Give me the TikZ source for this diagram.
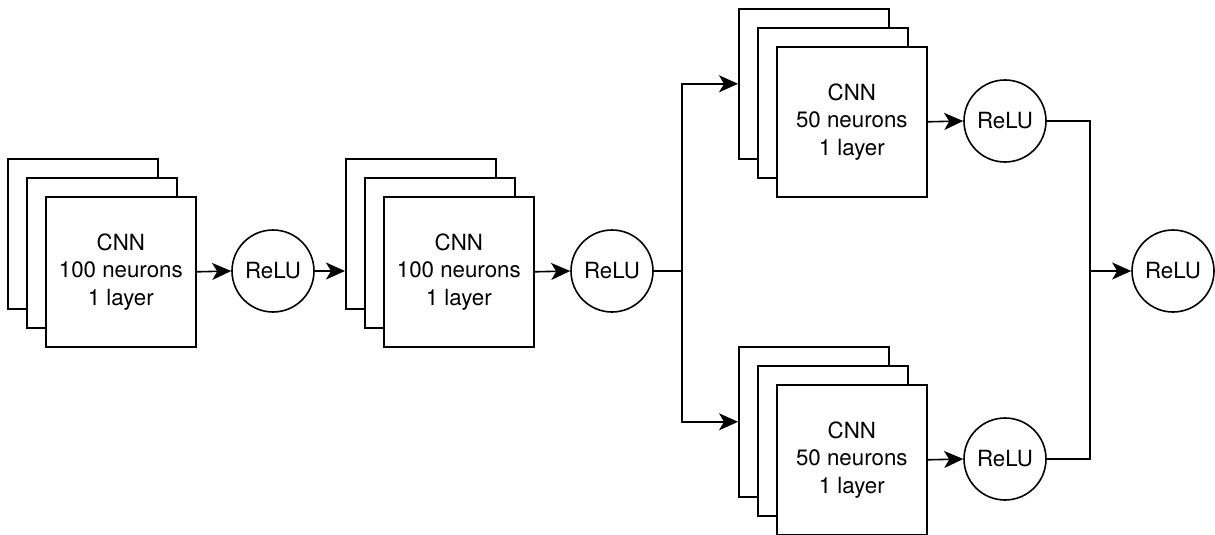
\documentclass[tikz,border=0pt]{standalone}
\usepackage{fontspec}
\setmainfont{TeX Gyre Heros}
\usetikzlibrary{arrows.meta}
\begin{document}
\begin{tikzpicture}[x=1pt,y=-1pt,
  layer/.style={draw, line width=1.6pt, fill=white, minimum width=150pt, minimum height=150pt, inner sep=0pt, anchor=north west, align=center, font=\fontsize{22.3}{27.5}\selectfont},
  relu/.style={draw, circle, line width=1.6pt, fill=white, minimum size=82pt, inner sep=0pt, font=\fontsize{22.3}{25}\selectfont},
  conn/.style={line width=1.6pt},
  arr/.style={conn, -{Stealth[length=19pt,width=17pt,inset=5pt]}}]
\useasboundingbox (0,0) rectangle (1215,535);
% stack 1
\node[layer] (a1) at (7,158) {};
\node[layer] (m1) at (26,177) {};
\node[layer] (c1) at (45,196) {CNN\\100 neurons\\1 layer};
\node[relu] (r1) at (273,271) {ReLU};
% stack 2
\node[layer] (b2) at (345,158) {};
\node[layer] (m2) at (364,177) {};
\node[layer] (c2) at (383,196) {CNN\\100 neurons\\1 layer};
\node[relu] (r2) at (612,271) {ReLU};
% stack 3 (top)
\node[layer] (b3) at (738,8) {};
\node[layer] (m3) at (757,27) {};
\node[layer] (c3) at (776,46) {CNN\\50 neurons\\1 layer};
\node[relu] (r3) at (1005,121) {ReLU};
% stack 4 (bottom)
\node[layer] (b4) at (738,346) {};
\node[layer] (m4) at (757,365) {};
\node[layer] (c4) at (776,384) {CNN\\50 neurons\\1 layer};
\node[relu] (r4) at (1005,459) {ReLU};
% final
\node[relu] (r5) at (1173,271) {ReLU};
\coordinate (s) at (682,271);
\coordinate (m) at (1090,271);
% connectors
\draw[arr] (c1.east) -- (r1.west);
\draw[arr] (r1.east) -- (r1.east -| b2.west);
\draw[arr] (c2.east) -- (r2.west);
\draw[conn] (r2.east) -- (s);
\draw[arr] (s) |- (b3.west);
\draw[arr] (s) |- (b4.west);
\draw[arr] (c3.east) -- (r3.west);
\draw[arr] (c4.east) -- (r4.west);
\draw[conn] (r3.east) -| (m);
\draw[conn] (r4.east) -| (m);
\draw[arr] (m) -- (r5.west);
\end{tikzpicture}
\end{document}
